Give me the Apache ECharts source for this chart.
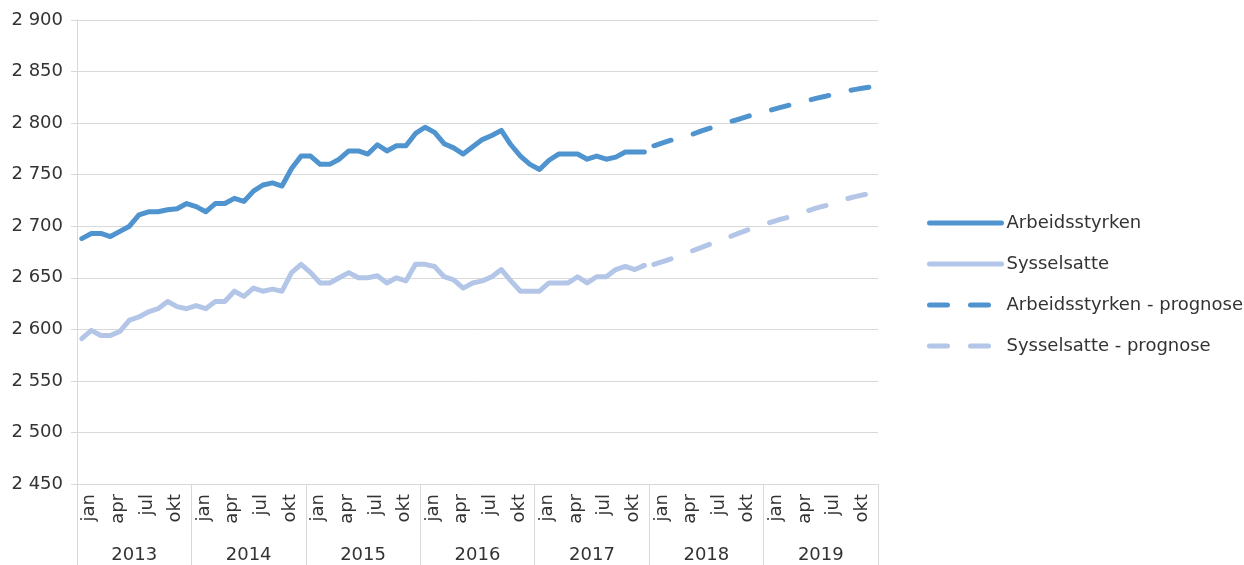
<!DOCTYPE html>
<html>
<head>
<meta charset="utf-8">
<script src="https://cdn.jsdelivr.net/npm/echarts@6/dist/echarts.min.js"></script>
<style>
  html, body { margin: 0; padding: 0; background: #ffffff; }
  #chart { width: 1244px; height: 565px; }
</style>
</head>
<body>
<div id="chart"></div>
<script>
const years = ['2013', '2014', '2015', '2016', '2017', '2018', '2019'];
const months = ['jan', 'feb', 'mar', 'apr', 'mai', 'jun', 'jul', 'aug', 'sep', 'okt', 'nov', 'des'];
const yTicks = { min: 2450, max: 2900, step: 50 };

// Jan 2013 - Dec 2017 (actual)
const arbeidsstyrken = [
  2688, 2693, 2693, 2690, 2695, 2700, 2711, 2714, 2714, 2716, 2717, 2722,
  2719, 2714, 2722, 2722, 2727, 2724, 2734, 2740, 2742, 2739, 2756, 2768,
  2768, 2760, 2760, 2765, 2773, 2773, 2770, 2779, 2773, 2778, 2778, 2790,
  2796, 2791, 2780, 2776, 2770, 2777, 2784, 2788, 2793, 2779, 2768, 2760,
  2755, 2764, 2770, 2770, 2770, 2765, 2768, 2765, 2767, 2772, 2772, 2772
];
const sysselsatte = [
  2591, 2599, 2594, 2594, 2598, 2609, 2612, 2617, 2620, 2627, 2622, 2620,
  2623, 2620, 2627, 2627, 2637, 2632, 2640, 2637, 2639, 2637, 2655, 2663,
  2655, 2645, 2645, 2650, 2655, 2650, 2650, 2652, 2645, 2650, 2647, 2663,
  2663, 2661, 2651, 2648, 2640, 2645, 2647, 2651, 2658, 2647, 2637, 2637,
  2637, 2645, 2645, 2645, 2651, 2645, 2651, 2651, 2658, 2661, 2658, 2662
];
// Jan 2018 - Dec 2019 (forecast)
const arbeidsstyrkenPrognose = [
  2778, 2781, 2784, 2786.5, 2789, 2792.5, 2795.5, 2798.5, 2801.5, 2804, 2807, 2809.5,
  2812, 2814.5, 2817, 2819.5, 2821.5, 2824, 2826, 2828.5, 2830.5, 2832.5, 2834, 2835.5
];
const sysselsattePrognose = [
  2663, 2666, 2669, 2672.5, 2676, 2679.5, 2683, 2686.5, 2690, 2693.5, 2697, 2700,
  2703, 2706, 2708.5, 2711, 2714.5, 2717.5, 2720, 2723, 2726, 2728.5, 2730.5, 2732
];
const seriesNames = ['Arbeidsstyrken', 'Sysselsatte', 'Arbeidsstyrken - prognose', 'Sysselsatte - prognose'];

const DARK = '#5094cf';
const LIGHT = '#b4c6e7';
const GRID = '#d9d9d9';
const TEXT = '#333333';
const FONT = '"DejaVu Sans", sans-serif';
const FS = 18;

const categories = [];
years.forEach(y => months.forEach(m => categories.push(y + '-' + m)));
const nActual = arbeidsstyrken.length;
const total = categories.length;
const pad = (arr, before) => {
  const out = new Array(total).fill(null);
  arr.forEach((v, i) => { out[before + i] = v; });
  return out;
};

const fmt = v => String(v).replace(/\B(?=(\d{3})+(?!\d))/g, ' ');

function lineSeries(name, data, color, dashed) {
  return {
    name: name,
    type: 'line',
    data: data,
    xAxisIndex: 0,
    symbol: 'none',
    showSymbol: false,
    connectNulls: false,
    lineStyle: {
      color: color,
      width: 5,
      cap: 'round',
      join: 'round',
      type: dashed ? [18, 23] : 'solid'
    },
    itemStyle: { color: color },
    emphasis: { disabled: true }
  };
}

const chart = echarts.init(document.getElementById('chart'), null, { renderer: 'canvas' });
chart.setOption({
  animation: false,
  backgroundColor: '#ffffff',
  textStyle: { fontFamily: FONT },
  grid: { left: 77, right: 366, top: 20, bottom: 81, containLabel: false },
  legend: {
    orient: 'vertical',
    left: 927,
    top: 213,
    padding: 0,
    itemWidth: 72,
    itemHeight: 20,
    itemGap: 21,
    data: seriesNames,
    itemStyle: { opacity: 0 },
    lineStyle: { width: 5, cap: 'round' },
    textStyle: { fontSize: FS, color: TEXT, fontFamily: FONT, lineHeight: 20 }
  },
  xAxis: [
    {
      type: 'category',
      position: 'bottom',
      data: categories,
      boundaryGap: true,
      axisLine: { show: false },
      axisTick: { show: false },
      splitLine: { show: false },
      axisLabel: {
        interval: (i) => i % 3 === 0,
        formatter: v => v.split('-')[1],
        rotate: 90,
        margin: 10,
        fontSize: FS,
        color: TEXT,
        fontFamily: FONT,
        verticalAlign: 'top',
        lineHeight: 16
      }
    },
    {
      type: 'category',
      position: 'bottom',
      data: years,
      boundaryGap: true,
      axisLine: { show: false },
      axisTick: { show: true, inside: false, length: 81, interval: 0, lineStyle: { color: GRID, width: 1 } },
      splitLine: { show: false },
      axisLabel: { margin: 62, fontSize: FS, color: TEXT, fontFamily: FONT, interval: 0 }
    }
  ],
  yAxis: {
    type: 'value',
    min: yTicks.min,
    max: yTicks.max,
    interval: yTicks.step,
    axisLine: { show: true, lineStyle: { color: GRID, width: 1 } },
    axisTick: { show: true, length: 6, lineStyle: { color: GRID } },
    splitLine: { show: true, lineStyle: { color: GRID, width: 1 } },
    axisLabel: { margin: 14, fontSize: FS, color: TEXT, fontFamily: FONT, formatter: fmt }
  },
  series: [
    lineSeries(seriesNames[0], pad(arbeidsstyrken, 0), DARK, false),
    lineSeries(seriesNames[1], pad(sysselsatte, 0), LIGHT, false),
    lineSeries(seriesNames[2], pad(arbeidsstyrkenPrognose, nActual), DARK, true),
    lineSeries(seriesNames[3], pad(sysselsattePrognose, nActual), LIGHT, true)
  ]
});
</script>
</body>
</html>
